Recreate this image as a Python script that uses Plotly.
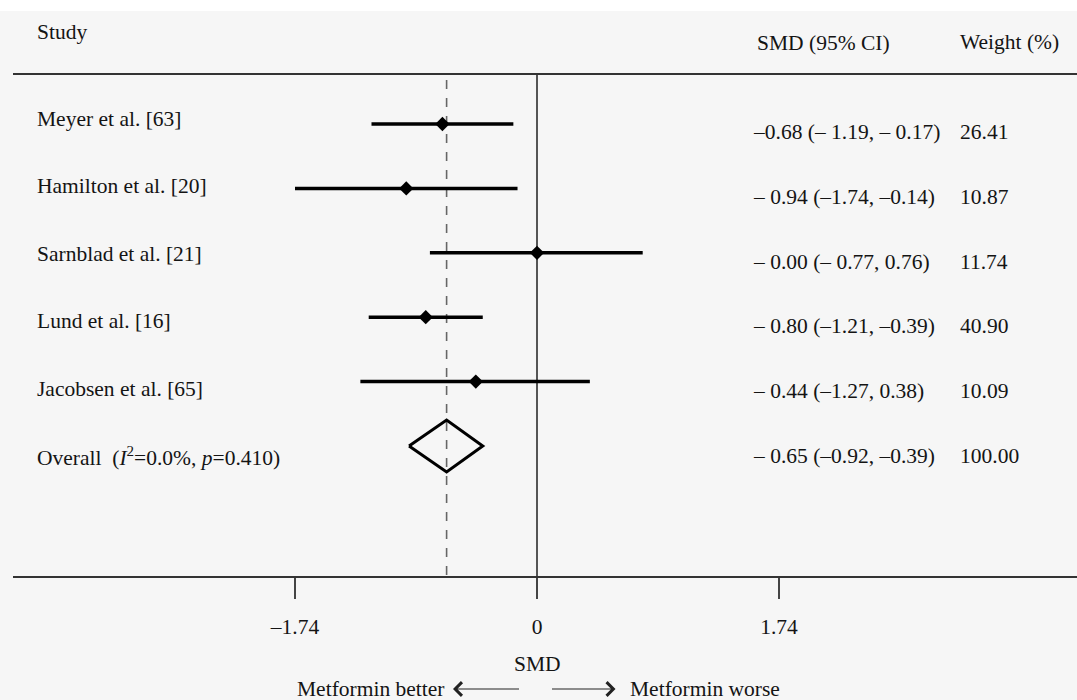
import plotly.graph_objects as go

# ---------------- data ----------------
studies = ["Meyer et al. [63]", "Hamilton et al. [20]", "Sarnblad et al. [21]",
           "Lund et al. [16]", "Jacobsen et al. [65]"]
est = [-0.68, -0.94, 0.00, -0.80, -0.44]
lo = [-1.19, -1.74, -0.77, -1.21, -1.27]
hi = [-0.17, -0.14, 0.76, -0.39, 0.38]
ci_labels = ["\u20130.68 (\u2013 1.19, \u2013 0.17)", "\u2013 0.94 (\u20131.74, \u20130.14)",
             "\u2013 0.00 (\u2013 0.77, 0.76)", "\u2013 0.80 (\u20131.21, \u20130.39)",
             "\u2013 0.44 (\u20131.27, 0.38)"]
weights = ["26.41", "10.87", "11.74", "40.90", "10.09"]

overall_label = "Overall  (<i>I</i><sup>2</sup>=0.0%, <i>p</i>=0.410)"
overall_est = -0.65
overall_lo = -0.92
overall_hi = -0.39
overall_ci = "\u2013 0.65 (\u20130.92, \u20130.39)"
overall_weight = "100.00"

tick_vals = [-1.74, 0, 1.74]
tick_text = ["\u20131.74", "0", "1.74"]

# ---------------- layout geometry ----------------
W, H = 1077, 700
ML, MR, MT, MB = 13, 0, 75, 124
PW, PH = W - ML - MR, H - MT - MB
px_per_unit = 139.08
x0_px = 537
x_range = [-(x0_px - ML) / px_per_unit, (W - MR - x0_px) / px_per_unit]
row_px0, row_step = 124, 64.4
def row_of_px(p):
    return 1 + (p - row_px0) / row_step
y_range = [row_of_px(H - MB), row_of_px(MT)]

def px_x(p):
    return (p - ML) / PW
def px_y(p):
    return (H - MB - p) / PH
def dx(p):
    return (p - x0_px) / px_per_unit

FONT = "Liberation Serif"
TXT = "#141414"
FS = 21.5

fig = go.Figure()

rows = list(range(1, len(studies) + 1))
overall_row = len(studies) + 1

# CI lines
for r, l, h in zip(rows, lo, hi):
    fig.add_trace(go.Scatter(x=[l, h], y=[r, r], mode="lines",
                             line=dict(color="black", width=3.5),
                             hoverinfo="skip", showlegend=False))
# point estimates
fig.add_trace(go.Scatter(x=est, y=rows, mode="markers",
                         marker=dict(symbol="diamond", size=11, color="black"),
                         showlegend=False))
# overall diamond
dh = 0.404
fig.add_trace(go.Scatter(
    x=[overall_lo, overall_est, overall_hi, overall_est, overall_lo],
    y=[overall_row, overall_row - dh, overall_row, overall_row + dh, overall_row],
    mode="lines", line=dict(color="black", width=3), showlegend=False))

# zero line and overall dashed line
fig.add_shape(type="line", x0=0, x1=0, y0=y_range[1], y1=y_range[0],
              line=dict(color="#555555", width=2), layer="below")
fig.add_shape(type="line", x0=overall_est, x1=overall_est, y0=row_of_px(80), y1=y_range[0],
              line=dict(color="#666666", width=1.6, dash="dash"), layer="below")

# white strip at top
fig.add_shape(type="rect", xref="paper", yref="paper", x0=px_x(0), x1=px_x(W),
              y0=px_y(11), y1=px_y(-2), fillcolor="white", line=dict(width=0), layer="below")

ann = []
def text(x_px, y_px, s, anchor="left"):
    ann.append(dict(xref="paper", yref="paper", x=px_x(x_px), y=px_y(y_px), text=s,
                    showarrow=False, xanchor=anchor, yanchor="middle",
                    font=dict(family=FONT, size=FS, color=TXT)))

# headers
text(35, 32, "Study")
text(755, 43, "SMD (95% CI)")
text(958, 42, "Weight (%)")

labels_all = studies + [overall_label]
ci_all = ci_labels + [overall_ci]
w_all = weights + [overall_weight]
for i in range(len(labels_all)):
    text(35, 119 + 67.4 * i, labels_all[i])
    text(751, 132 + 64.8 * i, ci_all[i])
    text(958, 132 + 64.8 * i, w_all[i])

# axis title
text(537, 664, "SMD", anchor="center")

# direction labels with arrows (arrowhead on the text side)
ann.append(dict(xref="x", yref="paper", x=dx(519), y=px_y(689),
                axref="x", ayref="pixel", ax=dx(370), ay=0,
                text="Metformin better", font=dict(family=FONT, size=FS, color=TXT),
                showarrow=True, arrowside="start", startarrowhead=4, startarrowsize=2.2,
                arrowwidth=1.2, arrowcolor="#222222", startstandoff=9, borderpad=0))
ann.append(dict(xref="x", yref="paper", x=dx(552), y=px_y(689),
                axref="x", ayref="pixel", ax=dx(705), ay=0,
                text="Metformin worse", font=dict(family=FONT, size=FS, color=TXT),
                showarrow=True, arrowside="start", startarrowhead=4, startarrowsize=2.2,
                arrowwidth=1.2, arrowcolor="#222222", startstandoff=14, borderpad=0))

fig.update_layout(
    width=W, height=H,
    margin=dict(l=ML, r=MR, t=MT, b=MB),
    paper_bgcolor="#f6f6f6", plot_bgcolor="#f6f6f6",
    annotations=ann,
    xaxis=dict(range=x_range, showgrid=False, zeroline=False,
               showline=True, mirror=True, linecolor="#333333", linewidth=2,
               ticks="outside", ticklen=21, tickwidth=2, tickcolor="#444444",
               tickvals=tick_vals, ticktext=tick_text, ticklabelstandoff=9,
               tickfont=dict(family=FONT, size=FS, color=TXT), fixedrange=True),
    yaxis=dict(range=y_range, showgrid=False, zeroline=False, showline=False,
               showticklabels=False, ticks="", fixedrange=True),
    showlegend=False,
)

fig.write_html("out.html", config={"displayModeBar": False},
               post_script="document.body.style.margin='0px';document.body.style.overflow='hidden';")
